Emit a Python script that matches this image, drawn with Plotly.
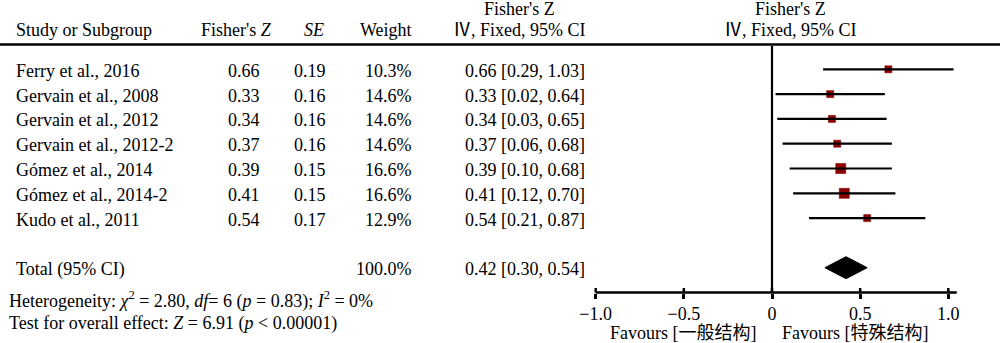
import plotly.graph_objects as go

# ---- study data -------------------------------------------------------------
studies = [
    "Ferry et al., 2016",
    "Gervain et al., 2008",
    "Gervain et al., 2012",
    "Gervain et al., 2012-2",
    "Gómez et al., 2014",
    "Gómez et al., 2014-2",
    "Kudo et al., 2011",
]
fisher_z = [0.66, 0.33, 0.34, 0.37, 0.39, 0.41, 0.54]
se = [0.19, 0.16, 0.16, 0.16, 0.15, 0.15, 0.17]
weight = [10.3, 14.6, 14.6, 14.6, 16.6, 16.6, 12.9]
ci_low = [0.29, 0.02, 0.03, 0.06, 0.10, 0.12, 0.21]
ci_high = [1.03, 0.64, 0.65, 0.68, 0.68, 0.70, 0.87]

total_z = 0.42
total_low = 0.30
total_high = 0.54
total_weight = 100.0

tick_vals = [-1.0, -0.5, 0.0, 0.5, 1.0]
tick_text = ["−1.0", "−0.5", "0", "0.5", "1.0"]

# ---- styling / layout constants ---------------------------------------------
W, H = 1000, 343
X0_PX, PX_PER_UNIT = 772.0, 176.3      # where effect 0 sits, pixels per unit
ROW0_PX, ROW_PX = 69.3, 24.8           # first study row, row pitch
box_px = [7, 7, 7, 7, 10, 10, 7]       # square sizes for each study
BOX_COLOR = "#8B0000"
FONT = "Liberation Serif, Times New Roman, Noto Sans CJK SC, serif"
FS = 18

TOTAL_ROW = len(studies) + 1
AXIS_ROW = TOTAL_ROW + 1
AXIS_END = 1.048


def row_of_px(p):
    return (p - ROW0_PX) / ROW_PX


def val_of_px(p):
    return (p - X0_PX) / PX_PER_UNIT


def py(p):
    return 1 - p / H


def px(p):
    return p / W


fig = go.Figure()

# study squares
rows = list(range(len(studies)))
fig.add_trace(go.Scatter(
    x=fisher_z, y=rows, mode="markers",
    marker=dict(symbol="square", size=box_px, color=BOX_COLOR, opacity=1,
                line=dict(width=0.6, color=BOX_COLOR)),
    hoverinfo="skip", showlegend=False,
))

# confidence interval whiskers (on top of the squares)
lx, ly = [], []
for i, (lo, hi) in enumerate(zip(ci_low, ci_high)):
    lx += [lo, hi, None]
    ly += [i, i, None]
fig.add_trace(go.Scatter(
    x=lx, y=ly, mode="lines", line=dict(color="black", width=2.2),
    hoverinfo="skip", showlegend=False,
))

# pooled estimate diamond
half_h = 11.0 / ROW_PX
fig.add_trace(go.Scatter(
    x=[total_low, total_z, total_high, total_z, total_low],
    y=[TOTAL_ROW, TOTAL_ROW - half_h, TOTAL_ROW, TOTAL_ROW + half_h, TOTAL_ROW],
    mode="lines", fill="toself", fillcolor="black",
    line=dict(color="black", width=1),
    hoverinfo="skip", showlegend=False,
))

shapes = []
# header rule
shapes.append(dict(type="line", xref="paper", yref="paper",
                   x0=0, x1=1, y0=py(44.5), y1=py(44.5),
                   line=dict(color="black", width=2.5)))
# line of no effect
shapes.append(dict(type="line", xref="x", yref="y",
                   x0=0, x1=0, y0=row_of_px(46), y1=AXIS_ROW,
                   line=dict(color="black", width=2.2)))
# effect axis line
shapes.append(dict(type="line", xref="x", yref="y",
                   x0=tick_vals[0], x1=AXIS_END, y0=AXIS_ROW, y1=AXIS_ROW,
                   line=dict(color="black", width=2.5)))
# upper half of the tick marks
for v in tick_vals:
    shapes.append(dict(type="line", xref="x", yref="y",
                       x0=v, x1=v, y0=AXIS_ROW, y1=AXIS_ROW - 4.5 / ROW_PX,
                       line=dict(color="black", width=2.5)))

ann = []


def text(x, y, s, anchor="left", yref="y", xref="paper"):
    ann.append(dict(x=x, y=y, xref=xref, yref=yref, text=s, showarrow=False,
                    xanchor=anchor, yanchor="middle", borderpad=0,
                    font=dict(family=FONT, size=FS, color="black")))


# column headers
hdr_y = py(30)
text(px(15), hdr_y, "Study or Subgroup", "left", "paper")
text(px(273), hdr_y, "Fisher's <i>Z</i>", "right", "paper")
text(px(325), hdr_y, "<i>SE</i>", "right", "paper")
text(px(413), hdr_y, "Weight", "right", "paper")
text(px(519), py(9), "Fisher's Z", "center", "paper")
text(px(519), hdr_y, "Ⅳ, Fixed, 95% CI", "center", "paper")
text(px(790), py(9), "Fisher's Z", "center", "paper")
text(px(790), hdr_y, "Ⅳ, Fixed, 95% CI", "center", "paper")

# study rows
for i, name in enumerate(studies):
    yy = i + 1.5 / ROW_PX
    text(px(15), yy, name, "left")
    text(px(261), yy, f"{fisher_z[i]:.2f}", "right")
    text(px(327), yy, f"{se[i]:.2f}", "right")
    text(px(413), yy, f"{weight[i]:.1f}%", "right")
    text(px(586), yy, f"{fisher_z[i]:.2f} [{ci_low[i]:.2f}, {ci_high[i]:.2f}]", "right")

# total row
yy = TOTAL_ROW + 1.5 / ROW_PX
text(px(15), yy, "Total (95% CI)", "left")
text(px(413), yy, f"{total_weight:.1f}%", "right")
text(px(586), yy, f"{total_z:.2f} [{total_low:.2f}, {total_high:.2f}]", "right")

# summary statistics
text(px(8), py(300), "Heterogeneity: <i>χ</i><sup>2</sup> = 2.80, <i>df</i>= 6 (<i>p</i> = 0.83); "
     "<i>I</i><sup>2</sup> = 0%", "left", "paper")
text(px(8), py(323), "Test for overall effect: <i>Z</i> = 6.91 (<i>p</i> &lt; 0.00001)",
     "left", "paper")

# favours labels
text(px(683), py(333), "Favours [一般结构]", "center", "paper")
text(px(855), py(333), "Favours [特殊结构]", "center", "paper")

fig.update_layout(
    width=W, height=H, autosize=False,
    margin=dict(l=0, r=0, t=0, b=0),
    paper_bgcolor="white", plot_bgcolor="white",
    shapes=shapes, annotations=ann,
    xaxis=dict(
        range=[val_of_px(0), val_of_px(W)],
        anchor="free", position=py(ROW0_PX + AXIS_ROW * ROW_PX),
        showgrid=False, zeroline=False, showline=False,
        tickmode="array", tickvals=tick_vals, ticktext=tick_text,
        ticks="outside", ticklen=5, tickwidth=2.5, tickcolor="black",
        tickfont=dict(family=FONT, size=FS, color="black"),
        fixedrange=True,
    ),
    yaxis=dict(
        range=[row_of_px(H), row_of_px(0)],
        visible=False, showgrid=False, zeroline=False, fixedrange=True,
    ),
)

fig.write_html("out.html", config={"displayModeBar": False})
